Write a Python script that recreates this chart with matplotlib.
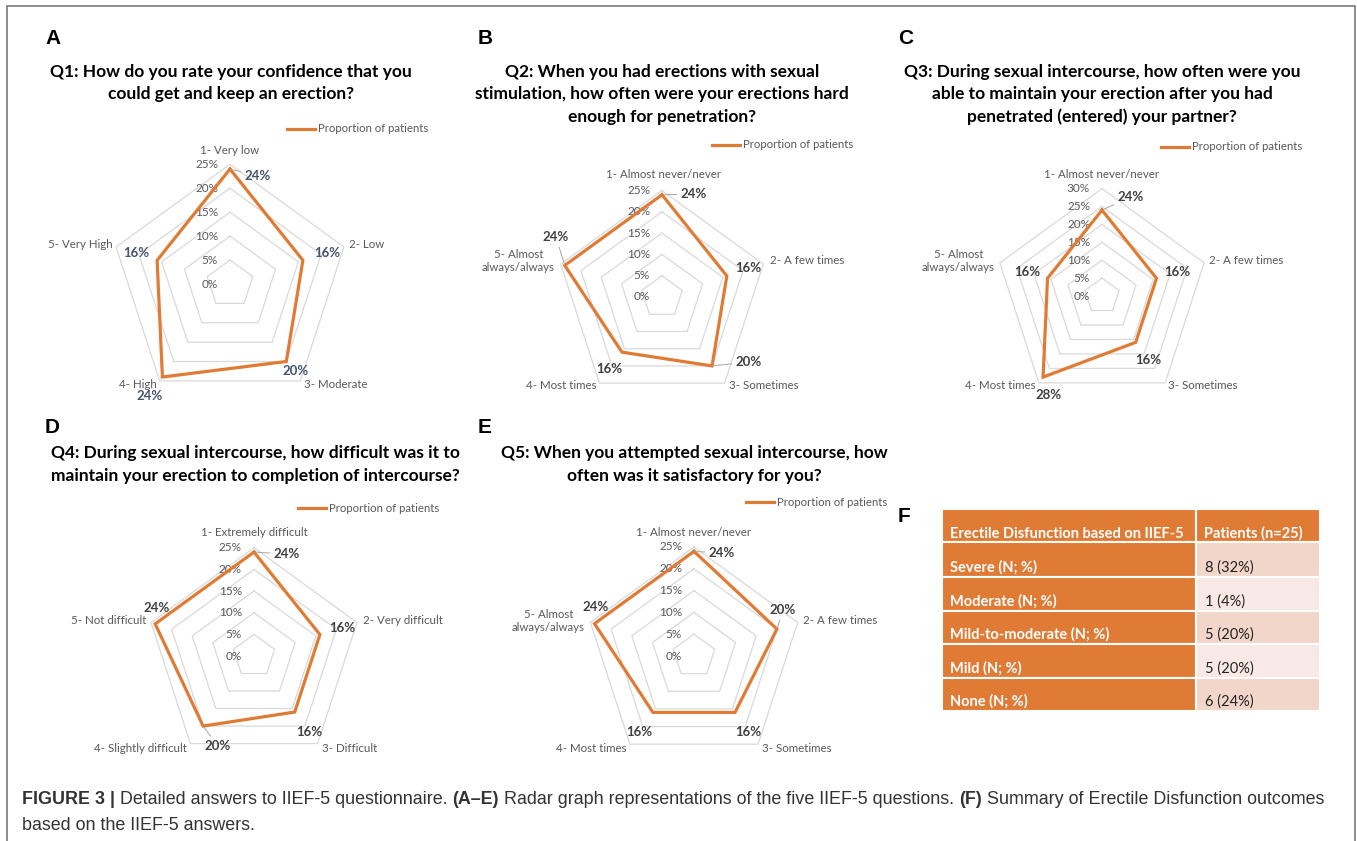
import numpy as np
import matplotlib.pyplot as plt
from matplotlib.patches import Rectangle

# figure size in pixels (dpi 100)
W, H = 1357, 841

# ---- data ----
labels_a = ["1- Very low", "2- Low", "3- Moderate", "4- High", "5- Very High"]
labels_b = ["1- Almost never/never", "2- A few times", "3- Sometimes", "4- Most times", "5- Almost\nalways/always"]
labels_c = ["1- Almost never/never", "2- A few times", "3- Sometimes", "4- Most times", "5- Almost\nalways/always"]
labels_d = ["1- Extremely difficult", "2- Very difficult", "3- Difficult", "4- Slightly difficult", "5- Not difficult"]
labels_e = ["1- Almost never/never", "2- A few times", "3- Sometimes", "4- Most times", "5- Almost\nalways/always"]

values_a = [24, 16, 20, 24, 16]
values_b = [24, 16, 20, 16, 24]
values_c = [24, 16, 16, 28, 16]
values_d = [24, 16, 16, 20, 24]
values_e = [24, 20, 16, 16, 24]

rmax = {"A": 25, "B": 25, "C": 30, "D": 25, "E": 25}

titles = {
    "A": ["Q1: How do you rate your confidence that you", "could get and keep an erection?"],
    "B": ["Q2: When you had erections with sexual", "stimulation, how often were your erections hard",
          "enough for penetration?"],
    "C": ["Q3: During sexual intercourse, how often were you", "able to maintain your erection after you had",
          "penetrated (entered) your partner?"],
    "D": ["Q4: During sexual intercourse, how difficult was it to",
          "maintain your erection to completion of intercourse?"],
    "E": ["Q5: When you attempted sexual intercourse, how", "often was it satisfactory for you?"],
}
series_name = "Proportion of patients"

table_header = ["Erectile Disfunction based on IIEF-5", "Patients (n=25)"]
table_rows = ["Severe (N; %)", "Moderate (N; %)", "Mild-to-moderate (N; %)", "Mild (N; %)", "None (N; %)"]
table_counts = [8, 1, 5, 5, 6]
table_pcts = [32, 4, 20, 20, 24]

caption1 = [("FIGURE 3 |", "bold"), ("Detailed answers to IIEF-5 questionnaire.", "normal"),
            ("(A\u2013E)", "bold"), ("Radar graph representations of the five IIEF-5 questions.", "normal"),
            ("(F)", "bold"), ("Summary of Erectile Disfunction outcomes", "normal")]
caption2 = "based on the IIEF-5 answers."

# ---- layout (pixels) ----
layout = {
    "A": dict(c=(230, 284), s=4.79, letter=(45, 38), tx=231, ty=[72, 94], leg=(287, 129),
              lab=[(230, 151, "center"), (349, 245, "left"), (304, 384, "left"), (157, 384, "right"), (113, 245, "right")],
              val=[(258, 176), (327, 253), (296, 371), (150, 396), (136, 253)],
              lead=[True, False, False, False, False], vcol="#44546a"),
    "B": dict(c=(662, 297), s=4.26, letter=(478, 38), tx=662, ty=[72, 94, 117], leg=(712, 145),
              lab=[(663, 174, "center"), (770, 260, "left"), (729, 386, "left"), (597, 386, "right"), (555, 261, "right")],
              val=[(694, 194), (748, 268), (749, 362), (609, 369), (556, 237)],
              lead=[True, False, True, False, True], vcol="#404040"),
    "C": dict(c=(1102, 296), s=3.58, letter=(898, 38), tx=1102, ty=[72, 94, 117], leg=(1161, 147),
              lab=[(1102, 174, "center"), (1209, 260, "left"), (1168, 386, "left"), (1036, 386, "right"), (995, 261, "right")],
              val=[(1131, 197), (1177, 272), (1148, 360), (1049, 395), (1027, 272)],
              lead=[True, False, False, False, False], vcol="#404040"),
    "D": dict(c=(254, 656), s=4.33, letter=(45, 427), tx=255, ty=[453, 476], leg=(298, 508),
              lab=[(254, 533, "center"), (363, 620, "left"), (322, 748, "left"), (187, 748, "right"), (146, 620, "right")],
              val=[(287, 554), (342, 628), (309, 732), (218, 746), (157, 608)],
              lead=[True, False, False, True, False], vcol="#404040"),
    "E": dict(c=(694, 656), s=4.36, letter=(478, 427), tx=694, ty=[453, 476], leg=(746, 502),
              lab=[(694, 533, "center"), (803, 620, "left"), (762, 748, "left"), (627, 748, "right"), (585, 621, "right")],
              val=[(722, 553), (783, 610), (748, 732), (639, 732), (596, 607)],
              lead=[True, True, False, False, False], vcol="#404040"),
}
panel_labels = {"A": labels_a, "B": labels_b, "C": labels_c, "D": labels_d, "E": labels_e}
panel_values = {"A": values_a, "B": values_b, "C": values_c, "D": values_d, "E": values_e}

orange = "#e07b35"
grey_txt = "#595959"
ring_col = "#d9d9d9"

plt.rcParams['font.family'] = ['Lato', 'DejaVu Sans']

fig = plt.figure(figsize=(W / 100, H / 100), dpi=100)


def px(x, y):
    return x / W, 1 - y / H


def ftext(x, y, s, **kw):
    return fig.text(*px(x, y), s, **kw)


# outer frame
fig.add_artist(Rectangle(px(7, 900), 1348 / W, 894 / H, transform=fig.transFigure,
                         fill=False, edgecolor="#6e6e6e", lw=1.1))

theta = np.deg2rad(90 - 72 * np.arange(5))

for key in "ABCDE":
    L = layout[key]
    cx, cy = L["c"]
    s = L["s"]
    half = 200
    ax = fig.add_axes([(cx - half) / W, 1 - (cy + half) / H, 2 * half / W, 2 * half / H])
    ax.set_xlim(-half / s, half / s)
    ax.set_ylim(-half / s, half / s)
    ax.axis("off")
    ax.set_facecolor("none")

    # pentagon grid
    for r in range(5, rmax[key] + 1, 5):
        gx = np.append(r * np.cos(theta), r * np.cos(theta[0]))
        gy = np.append(r * np.sin(theta), r * np.sin(theta[0]))
        ax.plot(gx, gy, color=ring_col, lw=0.9, zorder=1)
    for r in range(0, rmax[key] + 1, 5):
        ax.text(-12 / s, r, f"{r}%", ha="right", va="center", fontsize=8.5, color=grey_txt, zorder=2)

    vals = np.array(panel_values[key], dtype=float)
    xs = vals * np.cos(theta)
    ys = vals * np.sin(theta)
    line, = ax.plot(np.append(xs, xs[0]), np.append(ys, ys[0]), color=orange, lw=2.3,
                    label=series_name, zorder=3, solid_joinstyle="miter")

    for k, v in enumerate(panel_values[key]):
        tx, ty = L["val"][k]
        arrow = dict(arrowstyle="-", color="#a6a6a6", lw=0.7, shrinkA=1, shrinkB=1) if L["lead"][k] else None
        ax.annotate(f"{v}%", xy=(xs[k], ys[k]), xytext=(tx, H - ty), textcoords="figure pixels",
                    ha="center", va="center", fontsize=9.5, fontweight="bold", color=L["vcol"],
                    arrowprops=arrow, zorder=4)

    for k, lab in enumerate(panel_labels[key]):
        lx, ly, ha = L["lab"][k]
        ftext(lx, ly, lab, ha=ha, va="center", fontsize=8.3, color=grey_txt, multialignment="center")

    lgx, lgy = L["leg"]
    ax.legend(handles=[line], loc="center left", bbox_to_anchor=px(lgx, lgy), bbox_transform=fig.transFigure,
              frameon=False, borderpad=0, borderaxespad=0, handlelength=2.5, handletextpad=0.2,
              fontsize=8.2, labelcolor=grey_txt)

    for line_txt, y in zip(titles[key], L["ty"]):
        ftext(L["tx"], y, line_txt, ha="center", va="center", fontsize=12.5, fontweight="bold", color="black")

    lx, ly = L["letter"]
    ftext(lx, ly, key, ha="left", va="center", fontsize=15, fontweight="bold",
          family="Liberation Sans", color="black")

# ---- panel F: table ----
ftext(898, 517, "F", ha="left", va="center", fontsize=15, fontweight="bold", family="Liberation Sans")
tx0, ty0, tw, th = 942, 509, 378, 202
tax = fig.add_axes([tx0 / W, 1 - (ty0 + th) / H, tw / W, th / H])
tax.set_xlim(0, tw)
tax.set_ylim(th, 0)
tax.axis("off")
col_edges = [0, 254, 378]
row_edges = [0, 33, 68, 102, 135, 169, 202]
light = ["#f3d6ca", "#f9e9e4"]
for j, htxt in enumerate(table_header):
    tax.add_patch(Rectangle((col_edges[j], row_edges[0]), col_edges[j + 1] - col_edges[j],
                            row_edges[1] - row_edges[0], facecolor=orange, edgecolor="white", lw=1.5))
    tax.text(col_edges[j] + 8, row_edges[1] - 4, htxt, ha="left", va="baseline",
             fontsize=10.5, fontweight="bold", color="white")
for i, (name, n, p) in enumerate(zip(table_rows, table_counts, table_pcts)):
    y0, y1 = row_edges[i + 1], row_edges[i + 2]
    tax.add_patch(Rectangle((col_edges[0], y0), col_edges[1] - col_edges[0], y1 - y0,
                            facecolor=orange, edgecolor="white", lw=1.5))
    tax.add_patch(Rectangle((col_edges[1], y0), col_edges[2] - col_edges[1], y1 - y0,
                            facecolor=light[i % 2], edgecolor="white", lw=1.5))
    tax.text(col_edges[0] + 8, y1 - 5, name, ha="left", va="baseline",
             fontsize=10.5, fontweight="bold", color="white")
    tax.text(col_edges[1] + 9, y1 - 5, f"{n} ({p}%)", ha="left", va="baseline",
             fontsize=10.5, color="#222222")

# ---- caption ----
renderer = fig.canvas.get_renderer()
cap_kw = dict(family="Liberation Sans", fontsize=12.85, color="#333333", va="center")


def text_w(s, weight):
    t = fig.text(0, 0, s, fontweight=weight, **cap_kw)
    w = t.get_window_extent(renderer).width
    t.remove()
    return w


space = text_w("a a", "normal") - text_w("aa", "normal")
x = 22
for s, weight in caption1:
    t = ftext(x, 800, s, fontweight=weight, ha="left", **cap_kw)
    x += t.get_window_extent(renderer).width + space
ftext(22, 825, caption2, ha="left", **cap_kw)

fig.savefig("out.png", dpi=100)
